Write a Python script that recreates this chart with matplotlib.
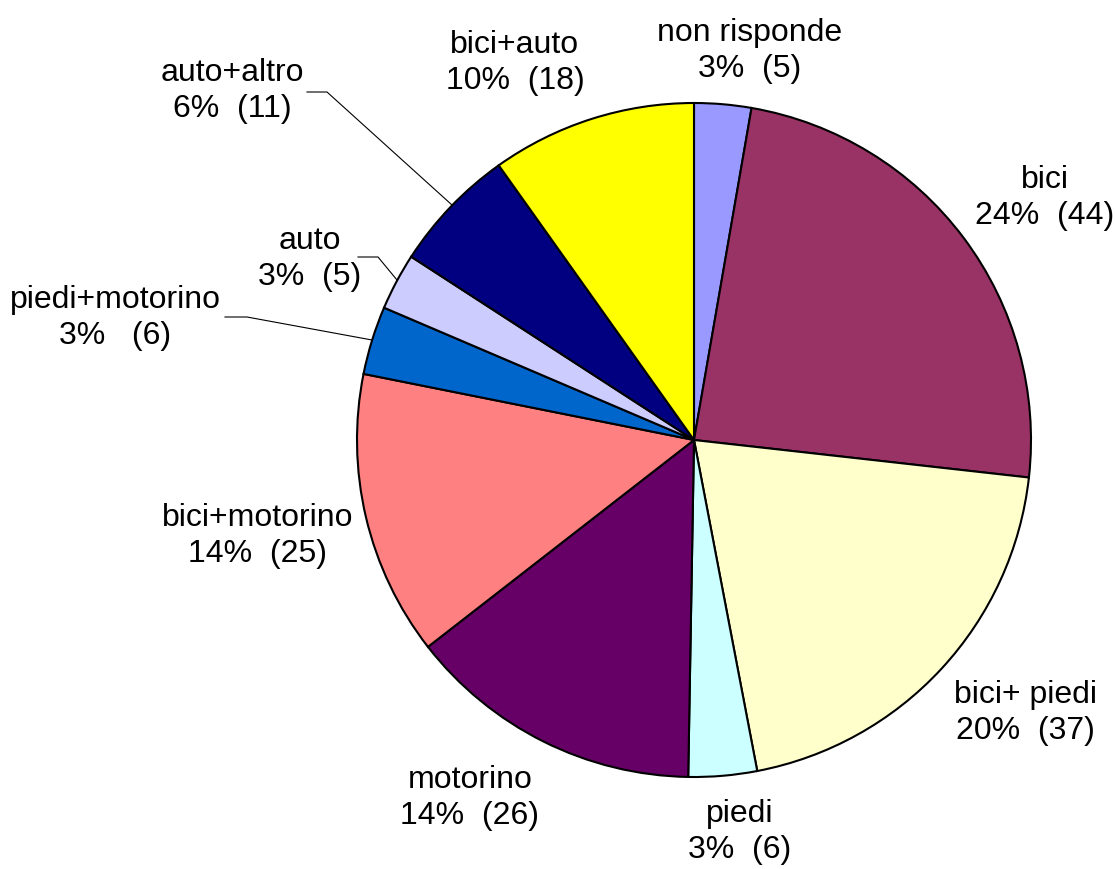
import matplotlib
matplotlib.use('Agg')
import matplotlib.pyplot as plt

# Data
labels = ['non risponde', 'bici', 'bici+ piedi', 'piedi', 'motorino',
          'bici+motorino', 'piedi+motorino', 'auto', 'auto+altro', 'bici+auto']
counts = [5, 44, 37, 6, 26, 25, 6, 5, 11, 18]
pct_text = ['3%  (5)', '24%  (44)', '20%  (37)', '3%  (6)', '14%  (26)',
            '14%  (25)', '3%   (6)', '3%  (5)', '6%  (11)', '10%  (18)']
colors = ['#9999FF', '#993366', '#FFFFCC', '#CCFFFF', '#660066',
          '#FF8080', '#0066CC', '#CCCCFF', '#000080', '#FFFF00']

# label centres in pixel coordinates (y measured from top)
label_pos = [(750, 51), (1045, 198), (1025, 713), (740, 832), (470, 798),
             (258, 536), (115, 318), (310, 259), (232, 91), (515, 63)]
# leader lines (pixel coords from top)
leaders = {
    'auto+altro': [(307, 92), (327, 92), (452, 205)],
    'auto': [(358, 257), (378, 257), (397, 280)],
    'piedi+motorino': [(225, 317), (247, 317), (372, 340)],
}

W, H = 1115, 869
plt.rcParams['font.family'] = ['Liberation Sans', 'DejaVu Sans']

fig = plt.figure(figsize=(W / 100, H / 100), dpi=100)
ax = fig.add_axes([0, 0, 1, 1])

ax.pie(counts, colors=colors, startangle=90, counterclock=False,
       center=(694, H - 440), radius=337,
       wedgeprops={'edgecolor': 'black', 'linewidth': 1.5})

ax.set_xlim(0, W)
ax.set_ylim(0, H)
ax.set_aspect('equal')
ax.axis('off')

for name, pt, (x, y) in zip(labels, pct_text, label_pos):
    ax.text(x, H - y, name + '\n' + pt, ha='center', va='center',
            fontsize=23, linespacing=1.3, color='black')

for name, pts in leaders.items():
    xs = [p[0] for p in pts]
    ys = [H - p[1] for p in pts]
    ax.plot(xs, ys, color='black', linewidth=0.8)

fig.savefig('out.png', dpi=100)
